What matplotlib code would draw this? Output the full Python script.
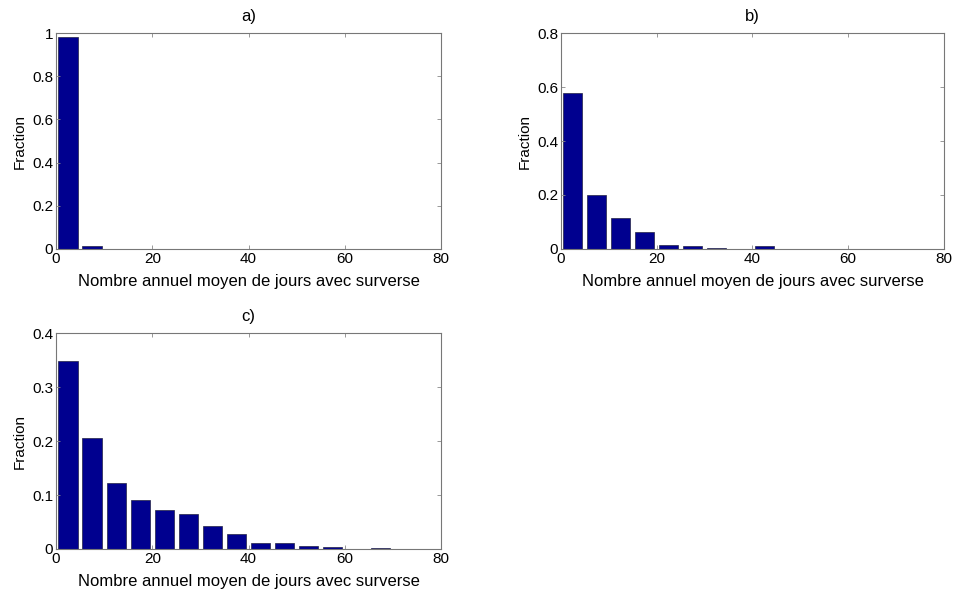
import matplotlib
matplotlib.use("Agg")
import matplotlib.pyplot as plt
from matplotlib.ticker import FuncFormatter

# bin centres (jours / an)
centres = [2.5, 7.5, 12.5, 17.5, 22.5, 27.5, 32.5, 37.5, 42.5, 47.5,
           52.5, 57.5, 62.5, 67.5, 72.5, 77.5]

frac_a = [0.982, 0.012, 0.002, 0.002, 0.002, 0.0, 0.002, 0.002, 0.002, 0.002,
          0.0, 0.0, 0.0, 0.0, 0.002, 0.0]
frac_b = [0.578, 0.201, 0.115, 0.063, 0.016, 0.010, 0.005, 0.0, 0.010, 0.0,
          0.0, 0.0, 0.0, 0.0, 0.0, 0.0]
frac_c = [0.349, 0.205, 0.123, 0.090, 0.073, 0.064, 0.042, 0.027, 0.012, 0.011,
          0.006, 0.004, 0.0, 0.002, 0.0, 0.0]

titles = ["a)", "b)", "c)"]
ymax = [1.0, 0.8, 0.4]
ystep = [0.2, 0.2, 0.1]
xlabel = "Nombre annuel moyen de jours avec surverse"

plt.rcParams['font.family'] = ['Liberation Sans', 'DejaVu Sans']
plt.rcParams['font.size'] = 11

fig = plt.figure(figsize=(9.54, 5.9), dpi=100)
rects = [[0.0587, 0.578, 0.4036, 0.366],
         [0.588, 0.578, 0.4015, 0.366],
         [0.0587, 0.0695, 0.4036, 0.366]]

for rect, vals, t, ym, ys in zip(rects, [frac_a, frac_b, frac_c], titles, ymax, ystep):
    ax = fig.add_axes(rect)
    ax.bar(centres, vals, width=4, color='#00008f', edgecolor='#222244', linewidth=0.5)
    ax.set_xlim(0, 80)
    ax.set_ylim(0, ym)
    ax.set_xticks([0, 20, 40, 60, 80])
    n = int(round(ym / ys))
    ax.set_yticks([ys * i for i in range(n + 1)])
    ax.yaxis.set_major_formatter(FuncFormatter(lambda v, p: '%g' % round(v, 3)))
    ax.tick_params(direction='in', top=True, right=True, length=3, width=0.6,
                   color='#888888', labelsize=11, pad=2)
    for s in ax.spines.values():
        s.set_color('#777777')
        s.set_linewidth(0.8)
    ax.set_title(t, fontsize=12, pad=9)
    ax.set_xlabel(xlabel, fontsize=12, labelpad=6)
    ax.set_ylabel("Fraction", fontsize=11, labelpad=4)

fig.savefig("out.png", dpi=100)
